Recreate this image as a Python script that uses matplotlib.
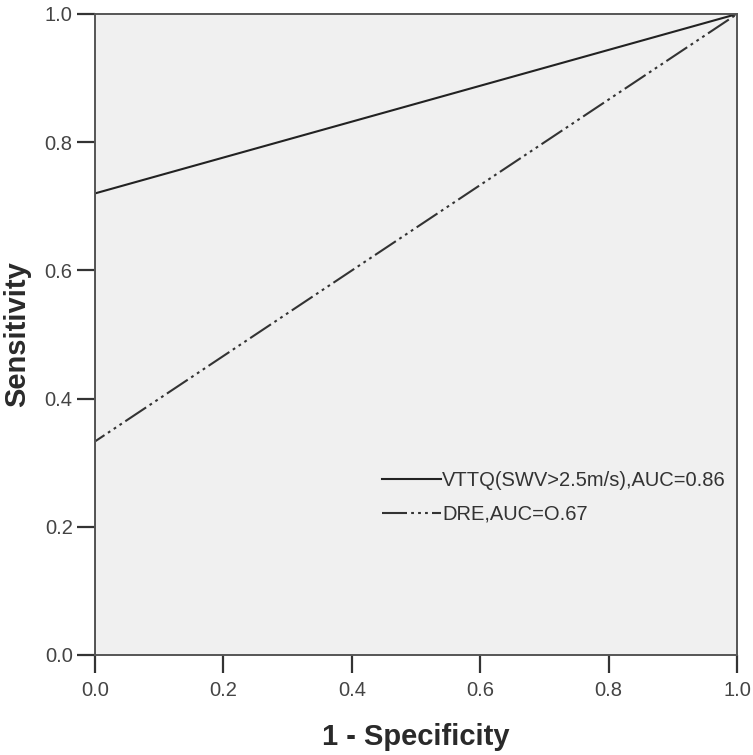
import matplotlib.pyplot as plt

plt.rcParams['font.family'] = ['Liberation Sans', 'DejaVu Sans']
plt.rcParams['lines.scale_dashes'] = False

# ROC curve points (1 - specificity, sensitivity)
vttq_fpr = [0.0, 0.0, 1.0]
vttq_tpr = [0.0, 0.72, 1.0]
dre_fpr = [0.0, 0.0, 1.0]
dre_tpr = [0.0, 0.333, 1.0]

labels = ['VTTQ(SWV>2.5m/s),AUC=0.86', 'DRE,AUC=O.67']
ticks = [0.0, 0.2, 0.4, 0.6, 0.8, 1.0]

fig = plt.figure(figsize=(7.53, 7.55), dpi=100)
ax = fig.add_axes([0.126, 0.1325, 0.853, 0.849])
ax.set_facecolor('#f0f0f0')

ax.plot(vttq_fpr, vttq_tpr, color='#222222', lw=1.5, label=labels[0])
ax.plot(dre_fpr, dre_tpr, color='#333333', lw=1.5,
        dashes=(18, 3, 2, 3, 2, 3, 2, 3), label=labels[1])

ax.set_xlim(0, 1)
ax.set_ylim(0, 1)
ax.set_xticks(ticks)
ax.set_yticks(ticks)
ax.set_xticklabels(['%.1f' % t for t in ticks])
ax.set_yticklabels(['%.1f' % t for t in ticks])
ax.tick_params(direction='out', length=13, width=1.6, colors='#333333',
               labelcolor='#444444', labelsize=14.5)
ax.tick_params(axis='x', pad=6)
ax.tick_params(axis='y', pad=3)
for s in ax.spines.values():
    s.set_color('#555555')
    s.set_linewidth(1.4)

ax.set_xlabel('1 - Specificity', fontsize=21, fontweight='bold', color='#2a2a2a', va='center')
ax.set_ylabel('Sensitivity', fontsize=21, fontweight='bold', color='#2a2a2a', va='center')
ax.xaxis.set_label_coords(0.5, -0.128)
ax.yaxis.set_label_coords(-0.121, 0.5)

leg = ax.legend(loc='upper left', bbox_to_anchor=(0.434, 0.30), frameon=False,
                fontsize=14.5, handlelength=2.95, handletextpad=0.05, labelspacing=0.75,
                labelcolor='#333333', borderaxespad=0)

fig.savefig('out.png', dpi=100)
